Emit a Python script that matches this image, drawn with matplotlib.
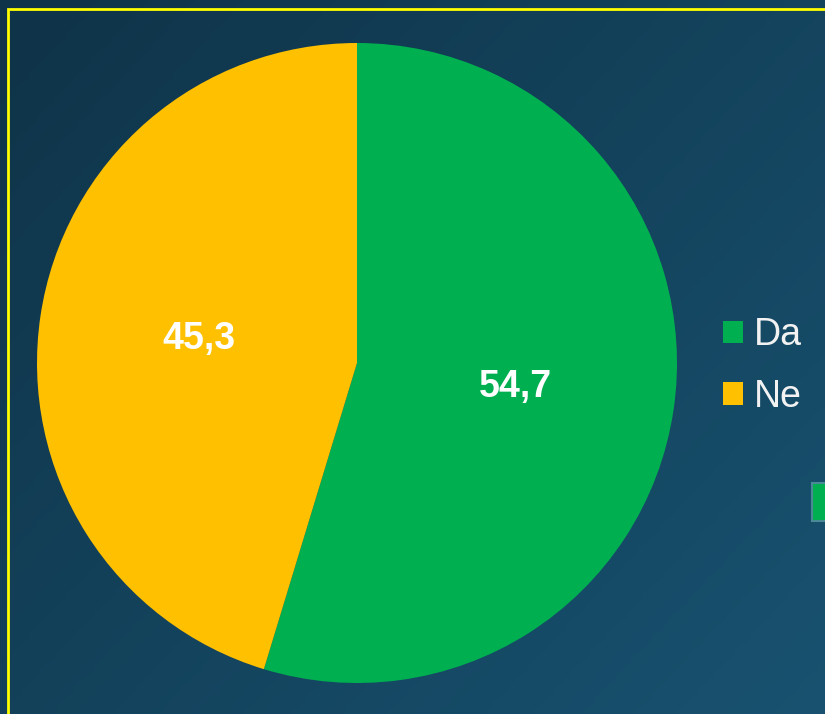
import numpy as np
import matplotlib
matplotlib.use("Agg")
import matplotlib.pyplot as plt
from matplotlib.patches import Rectangle

categories = ["Da", "Ne"]
values = [54.7, 45.3]
colors = ["#00B050", "#FFC000"]

W, H = 825, 714
fig = plt.figure(figsize=(W / 100, H / 100), dpi=100)

# background gradient
bg = fig.add_axes([0, 0, 1, 1], zorder=0)
bg.set_axis_off()
yy, xx = np.mgrid[0:1:200j, 0:1:200j]
t = np.clip(0.55 * xx + 0.45 * yy, 0, 1)
c0 = np.array([15, 51, 72]) / 255.0
c1 = np.array([24, 82, 112]) / 255.0
img = c0[None, None, :] * (1 - t[..., None]) + c1[None, None, :] * t[..., None]
bg.imshow(img, extent=[0, 1, 0, 1], aspect="auto", origin="upper")
bg.set_xlim(0, 1)
bg.set_ylim(0, 1)

def fx(px):
    return px / W

def fy(py):
    return 1 - py / H

# yellow frame (only top and left visible)
fig.patches.append(Rectangle((fx(8), fy(760)), fx(900), fy(9) - fy(760),
                             transform=fig.transFigure, fill=False,
                             edgecolor="#FFFF00", linewidth=2.0, zorder=5))
# partial green marker at right edge
fig.patches.append(Rectangle((fx(812), fy(521)), fx(30), fy(483) - fy(521),
                             transform=fig.transFigure, facecolor="#00B050",
                             edgecolor="#4a8a96", linewidth=1.5, zorder=5))

# pie
cx, cy, r = 357, 363, 320
ax = fig.add_axes([fx(cx - r), fy(cy + r), fx(2 * r), (2 * r) / H], zorder=2)
wedges, _, autotexts = ax.pie(
    values, colors=colors, startangle=90, counterclock=False, radius=1,
    autopct=lambda p: f"{p:.1f}".replace(".", ","), pctdistance=0.5,
    wedgeprops=dict(linewidth=0),
    textprops=dict(color="white", fontsize=27, fontweight="bold",
                   family="Liberation Sans"))
ax.set_xlim(-1, 1)
ax.set_ylim(-1, 1)
ax.set_aspect("equal")
ax.set_axis_off()

leg = fig.legend(wedges, categories, loc="center left",
                 bbox_to_anchor=(fx(723), fy(366)), frameon=False,
                 prop=dict(family="Liberation Sans", size=27),
                 handlelength=0.533, handleheight=0.533, handletextpad=0.3,
                 labelspacing=0.68, borderpad=0, borderaxespad=0)
for txt in leg.get_texts():
    txt.set_color("#F2F2F2")

fig.savefig("out.png", dpi=100)
